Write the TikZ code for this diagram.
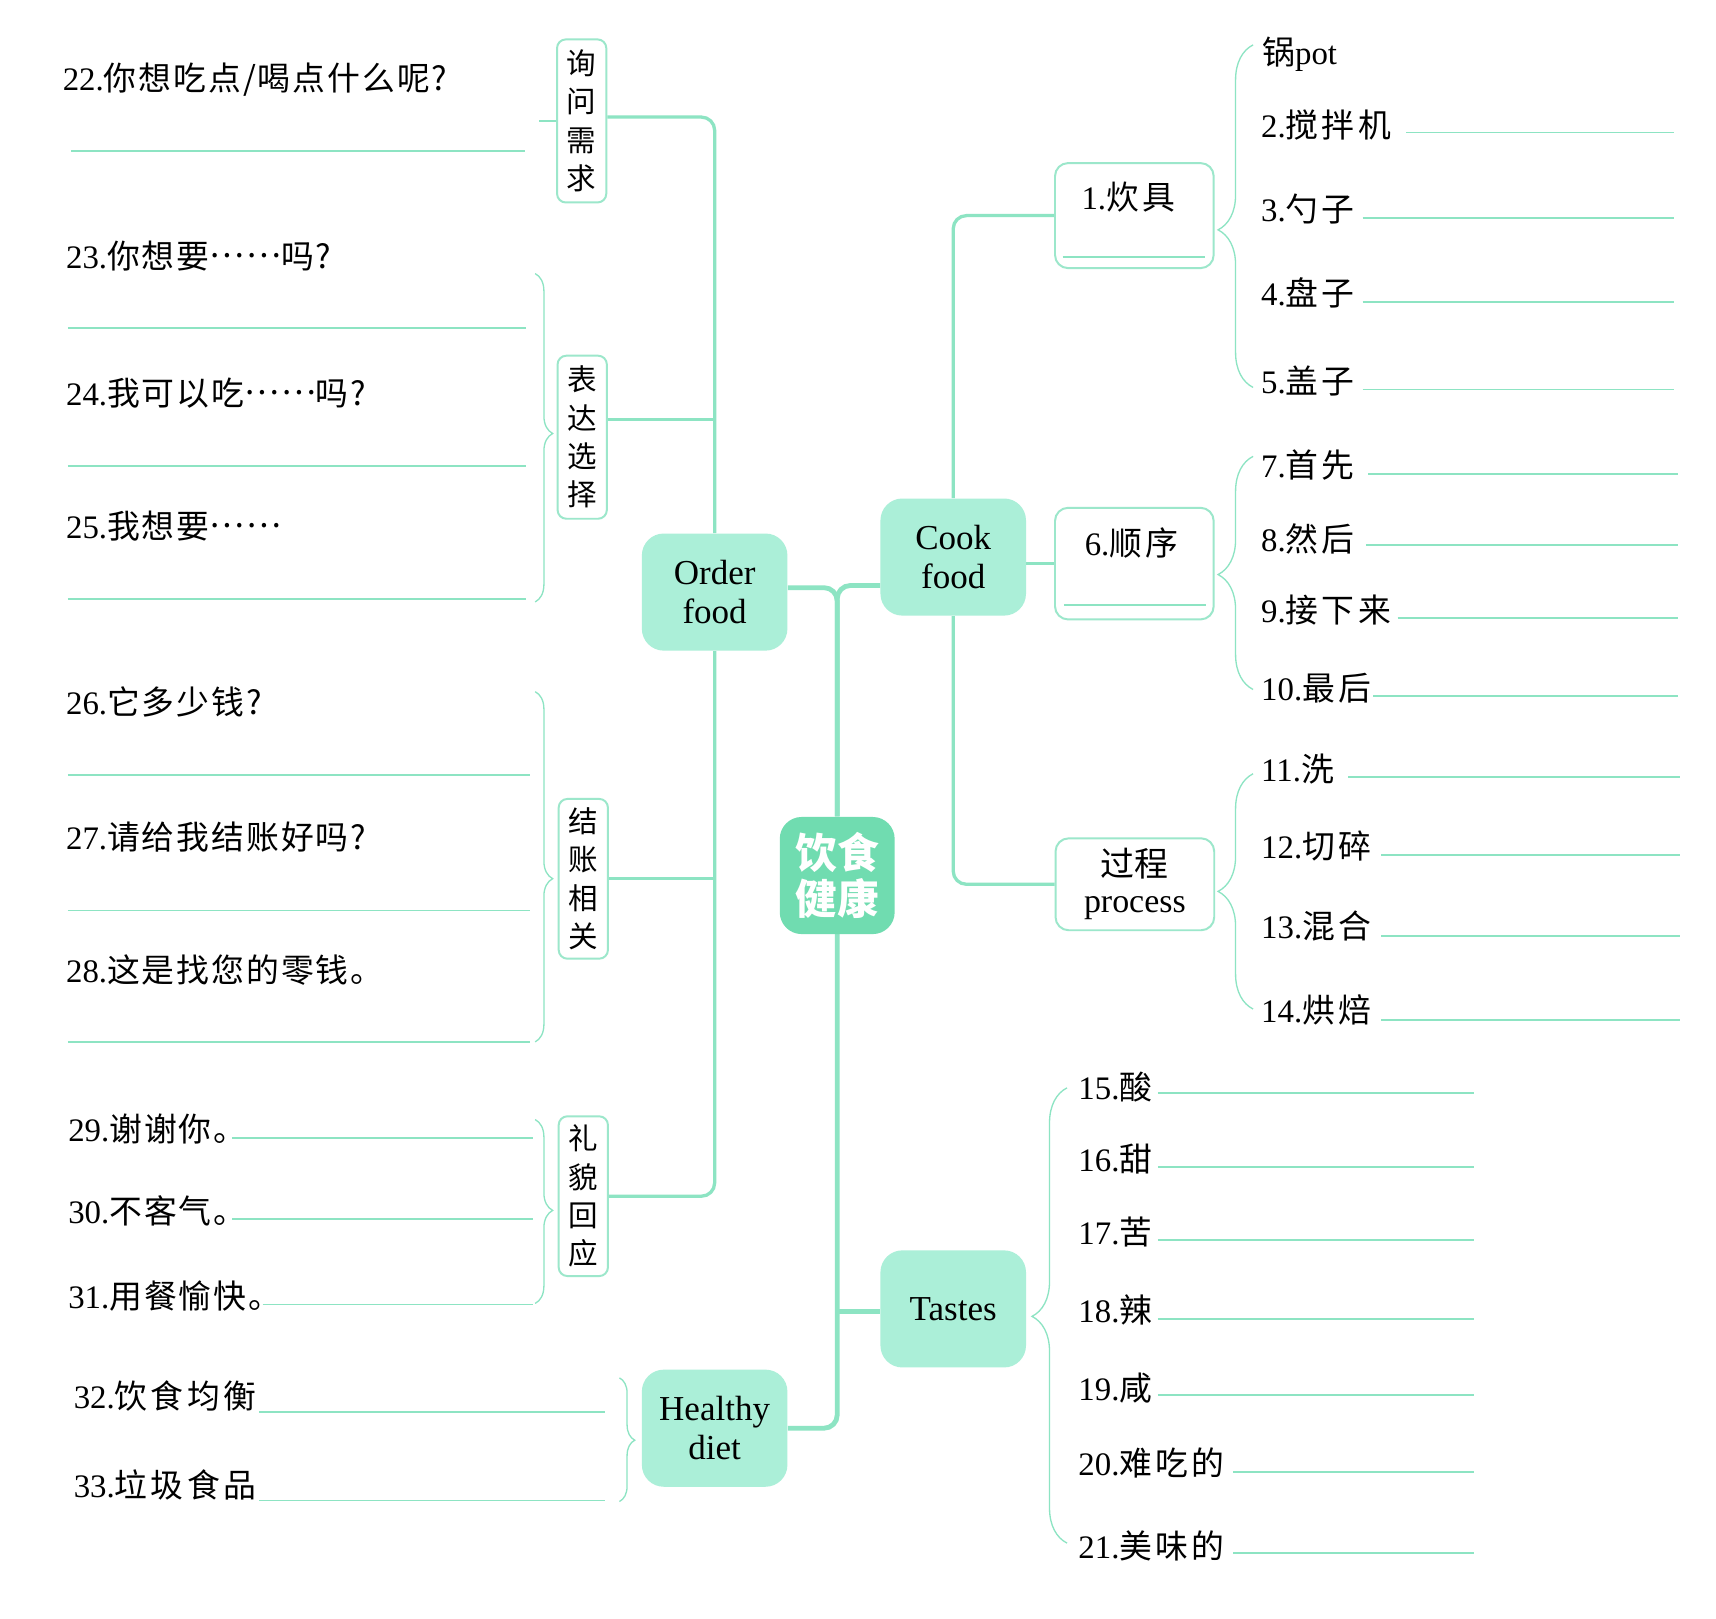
\documentclass[tikz,border=0pt]{standalone}
\usepackage{fontspec}
\setmainfont{Liberation Serif}
\newfontfamily\cjk[LetterSpace=10]{Noto Sans CJK SC}
\newfontfamily\cjkl[LetterSpace=6]{Noto Sans CJK SC}
\newfontfamily\cjkv{Noto Sans CJK SC}
\newcommand\zh[1]{{\cjk #1}}
\newcommand\zl[1]{{\cjkl #1}}
\newcommand\mdots{\raisebox{0.33em}{……}}
\usetikzlibrary{decorations.pathreplacing}
\definecolor{ln}{HTML}{8DE4C3}
\definecolor{nfill}{HTML}{ABEFD8}
\definecolor{cfill}{HTML}{70DCB0}
\definecolor{bd}{HTML}{9CE7CB}
\tikzset{
  topic/.style={fill=nfill, rounded corners=10pt, minimum width=66.5pt, minimum height=53.5pt, align=center, inner sep=0pt, font=\fontsize{16}{18}\selectfont},
  hubnode/.style={fill=cfill, rounded corners=10pt, minimum width=52.5pt, minimum height=53.5pt, align=center, inner sep=0pt, text=white, font=\cjkv\bfseries\fontsize{19}{21}\selectfont},
  vbox/.style={draw=bd, line width=0.9pt, fill=white, rounded corners=4pt, minimum width=22.5pt, align=center, inner sep=0pt, font=\cjkv\fontsize{13.5}{17.5}\selectfont},
  sbox/.style={draw=bd, line width=0.9pt, fill=white, rounded corners=6pt, minimum width=72.5pt, inner sep=0pt},
  item/.style={anchor=west, inner sep=0pt, font=\fontsize{15}{18}\selectfont},
  trunk/.style={draw=ln, line width=2.2pt},
  branch/.style={draw=ln, line width=1.5pt},
  ans/.style={draw=ln, line width=0.8pt},
  brL/.style={draw=ln, line width=0.6pt, decorate, decoration={brace, amplitude=8pt, aspect=#1}},
  brR/.style={draw=ln, line width=0.6pt, decorate, decoration={brace, amplitude=16pt, aspect=#1}},
}
\begin{document}
\begin{tikzpicture}[x=0.5pt, y=-0.5pt]
\useasboundingbox (0,0) rectangle (1568,1479);
\fill[white] (0,0) rectangle (1568,1479);

% coordinates for junctions
\coordinate (j1) at (765,537);
\coordinate (j2) at (765,535);
\coordinate (j3) at (653,383);

% topic nodes
\node[topic] (order) at (653,541) {Order\\food};
\node[topic] (cook) at (871,509) {Cook\\food};
\node[topic] (tastes) at (871,1196) {Tastes};
\node[topic] (healthy) at (653,1305) {Healthy\\diet};

% trunk
\draw[trunk, rounded corners=6pt] (order.east |- j1) -| (765,746);
\draw[trunk, rounded corners=6pt] (cook.west |- j2) -| (765,746);
\draw[trunk, rounded corners=6pt] (765,853) |- (healthy.east);
\draw[trunk] (765,1198) -- (tastes.west |- 0,1198);
\node[hubnode] (hub) at (765,800) {饮食\\健康};

% left vertical boxes
\node[vbox, minimum height=74.5pt] (ask) at (531.5,110.5) {询\\问\\需\\求};
\node[vbox, minimum height=74.5pt] (expr) at (532,399.5) {表\\达\\选\\择};
\node[vbox, minimum height=73pt] (pay) at (533,803) {结\\账\\相\\关};
\node[vbox, minimum height=73pt] (polite) at (533,1093) {礼\\貌\\回\\应};

% order branch connectors
\draw[branch, rounded corners=6pt] (ask.east |- 0,107) -| (order.north);
\draw[branch] (expr.east |- j3) -- (j3);
\draw[branch] (pay.east) -- (pay.east -| order.south);
\draw[branch, rounded corners=6pt] (polite.east) -| (order.south);

% right boxes
\node[sbox, minimum height=48pt] (tool) at (1036.5,197) {};
\node[item, anchor=center] (tooltxt) at (1031,180) {1.\zh{炊具}};
\draw[ans] (971,235) -- (1101,235);
\node[sbox, minimum height=51pt] (seq) at (1036.5,515) {};
\node[item, anchor=center] (seqtxt) at (1034,496) {6.\zh{顺序}};
\draw[ans] (972,553) -- (1102,553);
\node[sbox, minimum height=42pt, align=center, font=\fontsize{15.5}{16.5}\selectfont] (proc) at (1037,808) {{\cjkv 过程}\\process};

% cook branch connectors
\draw[branch, rounded corners=6pt] (cook.north) |- (tool.west);
\draw[branch] (cook.east |- seq.west) -- (seq.west);
\draw[branch, rounded corners=6pt] (cook.south) |- (proc.west);

% left items
\node[item] (q22) at (57,73) {22.\zl{你想吃点/喝点什么呢?}};
\draw[ans] (65,138) -- (480,138);
\node[item] (q23) at (60,234) {23.\zl{你想要\mdots 吗?}};
\draw[ans] (62,300) -- (481,300);
\node[item] (q24) at (60,359) {24.\zl{我可以吃\mdots 吗?}};
\draw[ans] (62,426) -- (481,426);
\node[item] (q25) at (60,481) {25.\zl{我想要\mdots}};
\draw[ans] (62,547) -- (481,547);
\node[item] (q26) at (60,641) {26.\zl{它多少钱?}};
\draw[ans] (62,708) -- (484,708);
\node[item] (q27) at (60,765) {27.\zl{请给我结账好吗?}};
\draw[ans] (62,832) -- (484,832);
\node[item] (q28) at (60,886) {28.\zl{这是找您的零钱。}};
\draw[ans] (62,952) -- (484,952);
\node[item] (q29) at (62,1032) {29.\zl{谢谢你。}};
\draw[ans] (212,1040) -- (487,1040);
\node[item] (q30) at (62,1106) {30.\zl{不客气。}};
\draw[ans] (212,1114) -- (487,1114);
\node[item] (q31) at (62,1184) {31.\zl{用餐愉快。}};
\draw[ans] (240,1192) -- (487,1192);
\node[item] (q32) at (67,1276) {32.\zh{饮食均衡}};
\draw[ans] (237,1290) -- (553,1290);
\node[item] (q33) at (67,1357) {33.\zh{垃圾食品}};
\draw[ans] (237,1371) -- (553,1371);

% left braces
\draw[draw=ln, line width=0.6pt] (ask.west) -- ++(-16,0);
\draw[brL=0.487] (489,250) -- (489,550);
\draw[brL=0.534] (489,632) -- (489,952);
\draw[brL=0.494] (489,1023) -- (489,1191);
\draw[draw=ln, line width=0.6pt, decorate, decoration={brace, amplitude=7pt, aspect=0.504}] (566,1259) -- (566,1372);

% right items
\node[item] (w1) at (1153,50) {\zh{锅}pot};
\node[item] (w2) at (1152,114) {2.\zh{搅拌机}};
\draw[ans] (1285,121) -- (1530,121);
\node[item] (w3) at (1152,191) {3.\zh{勺子}};
\draw[ans] (1245,199) -- (1530,199);
\node[item] (w4) at (1152,268) {4.\zh{盘子}};
\draw[ans] (1245,276) -- (1530,276);
\node[item] (w5) at (1152,348) {5.\zh{盖子}};
\draw[ans] (1245,356) -- (1530,356);
\node[item] (w7) at (1152,425) {7.\zh{首先}};
\draw[ans] (1250,433) -- (1533,433);
\node[item] (w8) at (1152,492) {8.\zh{然后}};
\draw[ans] (1248,498) -- (1533,498);
\node[item] (w9) at (1152,557) {9.\zh{接下来}};
\draw[ans] (1277,565) -- (1533,565);
\node[item] (w10) at (1152,629) {10.\zh{最后}};
\draw[ans] (1255,636) -- (1533,636);
\node[item] (w11) at (1152,703) {11.\zh{洗}};
\draw[ans] (1232,710) -- (1535,710);
\node[item] (w12) at (1152,773) {12.\zh{切碎}};
\draw[ans] (1262,781) -- (1535,781);
\node[item] (w13) at (1152,846) {13.\zh{混合}};
\draw[ans] (1262,855) -- (1535,855);
\node[item] (w14) at (1152,923) {14.\zh{烘焙}};
\draw[ans] (1262,932) -- (1535,932);

\node[item] (t15) at (985,993) {15.\zh{酸}};
\draw[ans] (1058,999) -- (1347,999);
\node[item] (t16) at (985,1059) {16.\zh{甜}};
\draw[ans] (1058,1066) -- (1347,1066);
\node[item] (t17) at (985,1126) {17.\zh{苦}};
\draw[ans] (1058,1133) -- (1347,1133);
\node[item] (t18) at (985,1197) {18.\zh{辣}};
\draw[ans] (1058,1205) -- (1347,1205);
\node[item] (t19) at (985,1268) {19.\zh{咸}};
\draw[ans] (1058,1275) -- (1347,1275);
\node[item] (t20) at (985,1337) {20.\zh{难吃的}};
\draw[ans] (1127,1345) -- (1347,1345);
\node[item] (t21) at (985,1413) {21.\zh{美味的}};
\draw[ans] (1127,1419) -- (1347,1419);

% right braces
\draw[brR=0.46] (1145,354) -- (1145,41);
\draw[brR=0.493] (1145,630) -- (1145,417);
\draw[brR=0.50] (1145,922) -- (1145,707);
\draw[brR=0.498] (975,1410) -- (975,994);
\end{tikzpicture}
\end{document}
